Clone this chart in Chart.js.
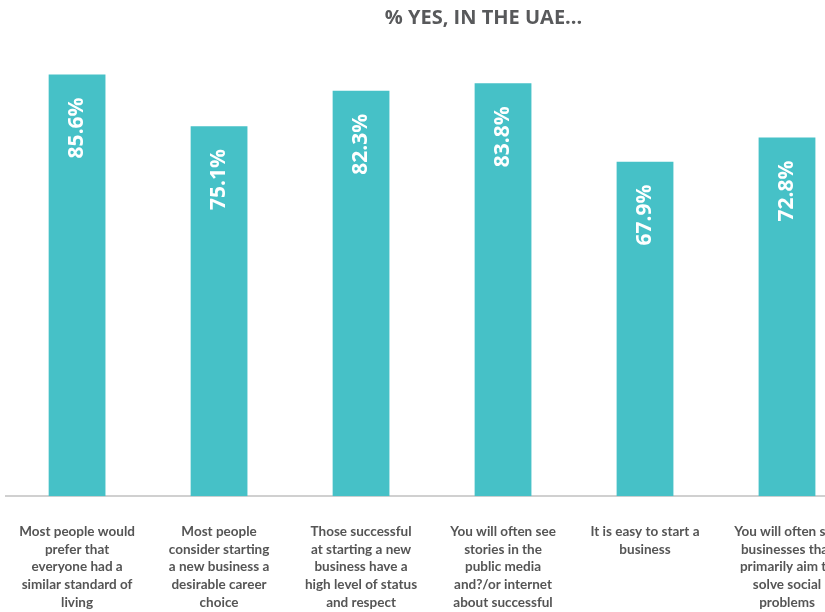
<!DOCTYPE html>
<html>
<head>
<meta charset="utf-8">
<script src="https://cdn.jsdelivr.net/npm/chart.js@4"></script>
<style>
  html, body { margin: 0; padding: 0; background: #fff; overflow: hidden; }
  #wrap { width: 825px; height: 612px; overflow: hidden; }
</style>
</head>
<body>
<div id="wrap"><canvas id="chart" width="970" height="632"></canvas></div>
<script>
const categories = [
    ['Most people would', 'prefer that', 'everyone had a', 'similar standard of', 'living'],
    ['Most people', 'consider starting', 'a new business a', 'desirable career', 'choice'],
    ['Those successful', 'at starting a new', 'business have a', 'high level of status', 'and respect'],
    ['You will often see', 'stories in the', 'public media', 'and?/or internet', 'about successful'],
    ['It is easy to start a', 'business'],
    ['You will often see', 'businesses that', 'primarily aim to', 'solve social', 'problems']
];
const yesShare = [85.6, 75.1, 82.3, 83.8, 67.9, 72.8];

// rotated white value labels near the top of each bar
const barLabels = {
    id: 'barLabels',
    afterDatasetsDraw(chart) {
        const ctx = chart.ctx;
        const meta = chart.getDatasetMeta(0);
        ctx.save();
        ctx.fillStyle = '#ffffff';
        ctx.font = 'bold 21px "Open Sans"';
        ctx.textAlign = 'right';
        ctx.textBaseline = 'middle';
        meta.data.forEach((bar, i) => {
            ctx.save();
            ctx.translate(bar.x, bar.y + 23);
            ctx.rotate(-Math.PI / 2);
            ctx.fillText(yesShare[i].toFixed(1) + '%', 0, 0);
            ctx.restore();
        });
        ctx.restore();
    }
};

const ctx = document.getElementById('chart').getContext('2d');
new Chart(ctx, {
    type: 'bar',
    data: {
        labels: categories,
        datasets: [{
            data: yesShare,
            backgroundColor: '#46c1c7',
            barPercentage: 0.4,
            categoryPercentage: 1
        }]
    },
    options: {
        responsive: false,
        animation: false,
        layout: { padding: { left: 2, right: 5, top: 0, bottom: 1 } },
        plugins: {
            legend: { display: false },
            tooltip: { enabled: false },
            title: {
                display: true,
                text: '% YES, IN THE UAE...',
                color: '#58595b',
                font: { family: '"Open Sans"', size: 20, weight: 'bold' },
                padding: { top: 6, bottom: 8 }
            }
        },
        scales: {
            x: {
                grid: { display: false, drawTicks: true, tickLength: 7 },
                border: { display: true, color: '#d0d0d0', width: 2 },
                ticks: {
                    color: '#555555',
                    font: { family: 'Lato', size: 13.5, weight: 'bold', lineHeight: 1.33 },
                    padding: 19,
                    maxRotation: 0,
                    autoSkip: false
                }
            },
            y: {
                display: false,
                min: 0,
                max: 93
            },
            // empty right-hand space so the title sits over the wider original frame
            spacer: {
                position: 'right',
                display: true,
                grid: { display: false },
                border: { display: false },
                ticks: { display: false },
                afterFit(scale) { scale.width = 107; }
            }
        }
    },
    plugins: [barLabels]
});
</script>
</body>
</html>
